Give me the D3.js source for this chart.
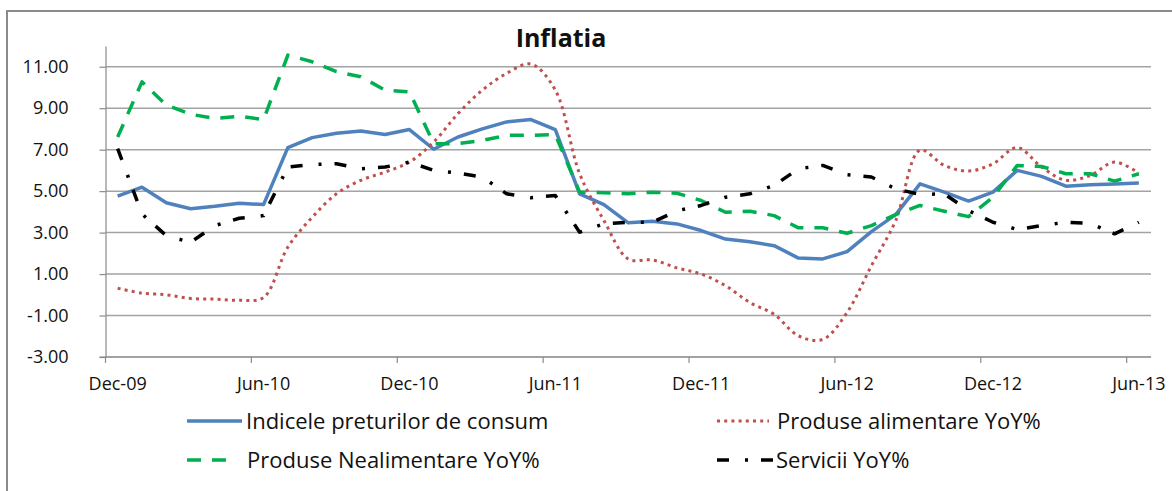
<!DOCTYPE html>
<html>
<head>
<meta charset="utf-8">
<script src="https://cdn.jsdelivr.net/npm/d3@7"></script>
<style>
  body { margin: 0; background: #fff; }
  text { font-family: "Open Sans", "Liberation Sans", sans-serif; fill: #111; }
</style>
</head>
<body>
<div id="chart-area"></div>
<script>
// categories (monthly, Dec-09 .. Jun-13)
const months = [
  "Dec-09", "Jan-10", "Feb-10", "Mar-10", "Apr-10", "May-10", "Jun-10", "Jul-10", "Aug-10", "Sep-10", "Oct-10", "Nov-10",
  "Dec-10", "Jan-11", "Feb-11", "Mar-11", "Apr-11", "May-11", "Jun-11", "Jul-11", "Aug-11", "Sep-11", "Oct-11", "Nov-11",
  "Dec-11", "Jan-12", "Feb-12", "Mar-12", "Apr-12", "May-12", "Jun-12", "Jul-12", "Aug-12", "Sep-12", "Oct-12", "Nov-12",
  "Dec-12", "Jan-13", "Feb-13", "Mar-13", "Apr-13", "May-13", "Jun-13"
];
const xTickLabels = ["Dec-09", "Jun-10", "Dec-10", "Jun-11", "Dec-11", "Jun-12", "Dec-12", "Jun-13"];
const yTicks = [-3, -1, 1, 3, 5, 7, 9, 11];

// series values (% YoY)
const cpi = [4.76, 5.19, 4.44, 4.15, 4.27, 4.42, 4.35, 7.10, 7.58, 7.79, 7.90, 7.73,
  7.97, 7.02, 7.61, 8.00, 8.34, 8.45, 7.97, 4.87, 4.35, 3.47, 3.55, 3.42,
  3.10, 2.69, 2.56, 2.37, 1.77, 1.73, 2.08, 3.05, 3.87, 5.35, 4.95, 4.52,
  4.95, 6.00, 5.71, 5.24, 5.31, 5.35, 5.39];
const food = [0.32, 0.08, 0.00, -0.18, -0.21, -0.26, -0.13, 2.30, 3.74, 4.87, 5.52, 5.92,
  6.40, 7.37, 8.74, 9.87, 10.68, 11.13, 9.87, 5.84, 3.58, 1.73, 1.68, 1.30,
  1.00, 0.44, -0.37, -0.94, -1.98, -2.15, -0.85, 1.40, 3.58, 6.97, 6.24, 5.97,
  6.32, 7.10, 6.16, 5.52, 5.76, 6.40, 5.87];
const nonFood = [7.61, 10.27, 9.15, 8.71, 8.50, 8.61, 8.45, 11.56, 11.24, 10.76, 10.52, 9.87,
  9.79, 7.29, 7.29, 7.45, 7.69, 7.69, 7.73, 4.95, 4.92, 4.87, 4.95, 4.90,
  4.55, 3.98, 4.03, 3.82, 3.23, 3.23, 2.97, 3.34, 3.87, 4.31, 4.03, 3.77,
  4.71, 6.24, 6.19, 5.84, 5.84, 5.48, 5.84];
const services = [7.05, 3.90, 2.85, 2.53, 3.34, 3.69, 3.82, 6.16, 6.29, 6.32, 6.08, 6.16,
  6.40, 6.00, 5.87, 5.68, 4.87, 4.68, 4.79, 3.02, 3.42, 3.50, 3.50, 4.05,
  4.31, 4.71, 4.87, 5.27, 6.08, 6.24, 5.79, 5.68, 5.11, 4.84, 4.87, 4.06,
  3.50, 3.15, 3.34, 3.50, 3.45, 2.94, 3.50];

const inflationChart = () => {
    let width = 1172;
    let height = 491;
    let left = 105.5, right = 1151, top = 46, bottom = 357;

    let series = [
        { name: "Indicele preturilor de consum", values: cpi, color: "#4F81BD", dash: null, width: 3.5, curve: d3.curveLinear, key: 55, gap: 4 },
        { name: "Produse alimentare YoY%", values: food, color: "#C0504D", dash: "3,4.2", width: 3, curve: d3.curveCatmullRom, key: 52, gap: 8 },
        { name: "Produse Nealimentare YoY%", values: nonFood, color: "#00B050", dash: "14,11", width: 3.5, curve: d3.curveLinear, key: 43, gap: 17 },
        { name: "Servicii YoY%", values: services, color: "#000000", dash: "12,16,3,13", width: 3.5, curve: d3.curveLinear, key: 56, gap: 3 }
    ];

    //scales
    let xScale = d3.scaleBand()
        .domain(months)
        .range([left, right])
        .padding(0);

    let yScale = d3.scaleLinear()
        .domain([-3, 12])
        .range([bottom, top]);

    let svg = d3.select("#chart-area")
        .append("svg")
        .attr("width", width)
        .attr("height", height);

    // outer frame
    svg.append("rect")
        .attr("x", 7).attr("y", 11)
        .attr("width", 1200).attr("height", 520)
        .attr("fill", "#fff")
        .attr("stroke", "#8a8a8a")
        .attr("stroke-width", 2);

    // gridlines
    svg.append("g")
        .selectAll("line")
        .data(yTicks)
        .enter()
        .append("line")
        .attr("x1", left)
        .attr("x2", right)
        .attr("y1", d => yScale(d))
        .attr("y2", d => yScale(d))
        .attr("stroke", "#a3a3a3")
        .attr("stroke-width", 1.5);

    //y axis
    let yAxis = d3.axisLeft(yScale)
        .tickValues(yTicks)
        .tickFormat(d => d.toFixed(2))
        .tickSizeInner(6)
        .tickSizeOuter(0)
        .tickPadding(31);

    let gy = svg.append("g")
        .attr("transform", "translate(" + left + ",0)")
        .call(yAxis);
    gy.select(".domain").attr("stroke", "#8a8a8a").attr("stroke-width", 1.2);
    gy.selectAll(".tick line").attr("stroke", "#8a8a8a").attr("stroke-width", 1.2);
    gy.selectAll("text")
        .attr("font-size", "18px")
        .attr("font-family", "'Open Sans', sans-serif")
        .attr("fill", "#111");

    //x axis: labels at category centres, tick marks at category starts
    let xAxis = d3.axisBottom(xScale)
        .tickValues(xTickLabels)
        .tickSize(0)
        .tickPadding(20);

    let gx = svg.append("g")
        .attr("transform", "translate(0," + bottom + ")")
        .call(xAxis);
    gx.select(".domain").remove();
    gx.selectAll("text")
        .attr("font-size", "18px")
        .attr("font-family", "'Open Sans', sans-serif")
        .attr("fill", "#111");

    svg.append("line")
        .attr("x1", left - 6).attr("x2", right)
        .attr("y1", bottom).attr("y2", bottom)
        .attr("stroke", "#8a8a8a")
        .attr("stroke-width", 1.2);

    svg.append("g")
        .selectAll("line")
        .data(xTickLabels)
        .enter()
        .append("line")
        .attr("x1", d => xScale(d))
        .attr("x2", d => xScale(d))
        .attr("y1", bottom)
        .attr("y2", bottom + 6)
        .attr("stroke", "#8a8a8a")
        .attr("stroke-width", 1.2);

    // lines
    series.forEach(s => {
        let line = d3.line()
            .x((d, i) => xScale(months[i]) + xScale.bandwidth() / 2)
            .y(d => yScale(d))
            .curve(s.curve);
        svg.append("path")
            .datum(s.values)
            .attr("d", line)
            .attr("fill", "none")
            .attr("stroke", s.color)
            .attr("stroke-width", s.width)
            .attr("stroke-dasharray", s.dash)
            .attr("stroke-linejoin", "round");
    });

    // title
    svg.append("text")
        .attr("x", 561)
        .attr("y", 47)
        .attr("text-anchor", "middle")
        .attr("font-size", "25px")
        .attr("font-weight", "bold")
        .text("Inflatia");

    // legend
    let legendPos = [[187, 421], [717, 421], [187, 460], [717, 460]];
    let legend = svg.append("g");
    series.forEach((s, j) => {
        let p = legendPos[j];
        legend.append("line")
            .attr("x1", p[0]).attr("x2", p[0] + s.key)
            .attr("y1", p[1]).attr("y2", p[1])
            .attr("stroke", s.color)
            .attr("stroke-width", s.width)
            .attr("stroke-dasharray", s.dash);
        legend.append("text")
            .attr("x", p[0] + s.key + s.gap)
            .attr("y", p[1])
            .attr("dy", "0.36em")
            .attr("font-size", "22px")
            .text(s.name);
    });
};
inflationChart();
</script>
</body>
</html>
